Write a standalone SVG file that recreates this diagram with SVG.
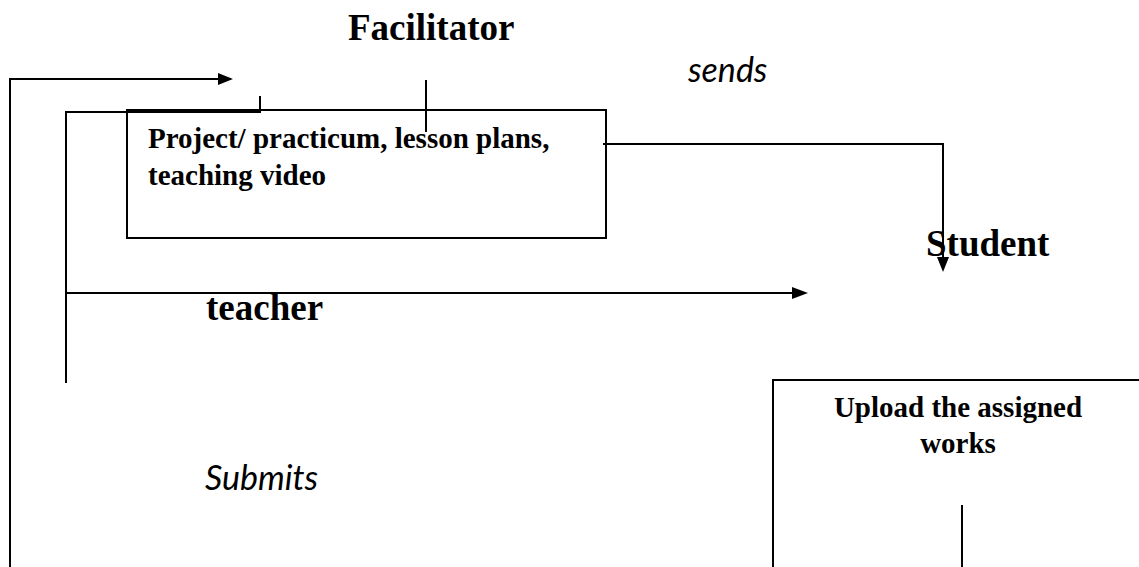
<svg xmlns="http://www.w3.org/2000/svg" width="1139" height="567" viewBox="0 0 1139 567">
<style>
.ln{fill:none;stroke:#000;stroke-width:2}
.ah{fill:#000;stroke:none}
.bx{fill:#fff;stroke:#000;stroke-width:2}
.hd{font-family:"Liberation Serif",serif;font-weight:bold;font-size:37px;fill:#000}
.bt{font-family:"Liberation Serif",serif;font-weight:bold;font-size:29px;fill:#000}
.it{font-family:Lato,"Noto Sans",sans-serif;font-style:italic;font-size:34px;fill:#000}
</style>
<rect width="1139" height="567" fill="#fff"/>
<g id="project-box">
<rect class="bx" x="127" y="110" width="479" height="128"/>
<text class="bt" x="148" y="148">Project/ practicum, lesson plans,</text>
<text class="bt" x="148" y="185">teaching video</text>
</g>
<g id="upload-box">
<rect class="bx" x="773" y="380" width="380" height="200"/>
<text class="bt" x="958" y="417" text-anchor="middle">Upload the assigned</text>
<text class="bt" x="958" y="453" text-anchor="middle">works</text>
</g>
<g id="facilitator"><text class="hd" x="348" y="40">Facilitator</text></g>
<g id="student"><text class="hd" x="926" y="256">Student</text></g>
<g id="teacher"><text class="hd" x="206" y="320">teacher</text></g>
<g id="labels">
<text class="it" x="688" y="82">sends</text>
<text class="it" x="205" y="490">Submits</text>
</g>
<g id="connectors">
<path class="ln" d="M10,567 V79 H220"/>
<polygon class="ah" points="218,73 233,79 218,85"/>
<path class="ln" d="M66,383 V112 H260 V96"/>
<path class="ln" d="M426,80 V132"/>
<path class="ln" d="M603,144 H943 V259"/>
<polygon class="ah" points="937,257 943,272 949,257"/>
<path class="ln" d="M66,293 H794"/>
<polygon class="ah" points="792,287 808,293 792,299"/>
<path class="ln" d="M962,505 V567"/>
</g>
</svg>
